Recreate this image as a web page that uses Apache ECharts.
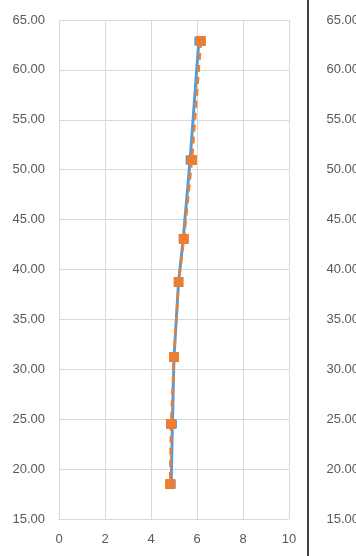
<!DOCTYPE html>
<html>
<head>
<meta charset="utf-8">
<script src="https://cdn.jsdelivr.net/npm/echarts@6/dist/echarts.min.js"></script>
<style>
  html, body { margin: 0; padding: 0; background: #fff; }
  #main { width: 356px; height: 556px; }
</style>
</head>
<body>
<div id="main"></div>
<script>
// values
var depth = [62.9, 50.97, 43.06, 38.75, 31.23, 24.52, 18.5];
var blueX = [6.08, 5.7, 5.4, 5.2, 5.0, 4.93, 4.88];
var orangeX = [6.17, 5.78, 5.43, 5.2, 5.0, 4.87, 4.83];

function pairs(xs, ys) {
  return xs.map(function (x, i) { return [x, ys[i]]; });
}

var chart = echarts.init(document.getElementById('main'));
var labelFont = { color: '#595959', fontSize: 13, fontFamily: 'Liberation Sans' };

chart.setOption({
  animation: false,
  grid: [
    { left: 59, right: 67, top: 20, bottom: 37 },
    { left: 373, width: 200, top: 20, bottom: 37 }
  ],
  xAxis: [
    {
      type: 'value', gridIndex: 0, min: 0, max: 10, interval: 2,
      axisLine: { lineStyle: { color: '#d9d9d9' } },
      axisTick: { show: false },
      axisLabel: Object.assign({ margin: 14 }, labelFont),
      splitLine: { lineStyle: { color: '#d9d9d9' } }
    },
    {
      type: 'value', gridIndex: 1, min: 0, max: 10, interval: 2,
      axisLine: { show: false }, axisTick: { show: false },
      axisLabel: { show: false }, splitLine: { show: false }
    }
  ],
  yAxis: [
    {
      type: 'value', gridIndex: 0, min: 15, max: 65, interval: 5,
      axisLine: { show: false },
      axisTick: { show: false },
      axisLabel: Object.assign({ margin: 14, formatter: function (v) { return v.toFixed(2); } }, labelFont),
      splitLine: { lineStyle: { color: '#d9d9d9' } }
    },
    {
      type: 'value', gridIndex: 1, min: 15, max: 65, interval: 5,
      axisLine: { show: false },
      axisTick: { show: false },
      axisLabel: Object.assign({ margin: 14, formatter: function (v) { return v.toFixed(2); } }, labelFont),
      splitLine: { show: false }
    }
  ],
  series: [
    {
      type: 'line',
      xAxisIndex: 0, yAxisIndex: 0,
      data: pairs(blueX, depth),
      symbol: 'rect', symbolSize: 9,
      itemStyle: { color: '#5b9bd5' },
      lineStyle: { color: '#5b9bd5', width: 3 }
    },
    {
      type: 'line',
      xAxisIndex: 0, yAxisIndex: 0,
      data: pairs(orangeX, depth),
      symbol: 'rect', symbolSize: 10,
      itemStyle: { color: '#ed7d31' },
      lineStyle: { color: '#ed7d31', width: 2.5, type: [7, 5] }
    }
  ],
  graphic: [
    {
      type: 'line',
      shape: { x1: 308, y1: 0, x2: 308, y2: 556 },
      style: { stroke: '#000', lineWidth: 1.5 }
    }
  ]
});
</script>
</body>
</html>
